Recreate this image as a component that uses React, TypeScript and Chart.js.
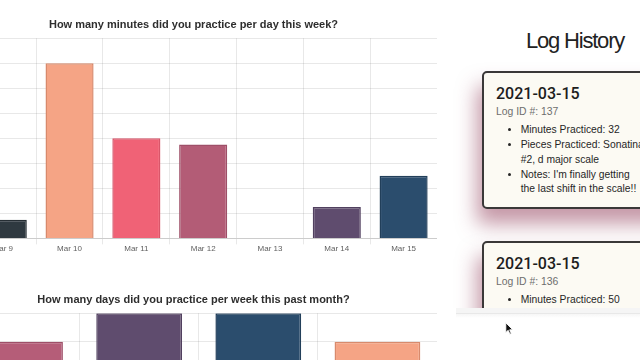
import React, { useEffect, useRef } from "react";
import { Chart, registerables } from "chart.js";

Chart.register(...registerables);

// Minutes practiced per day, this week
const dayLabels = ["Mar 9", "Mar 10", "Mar 11", "Mar 12", "Mar 13", "Mar 14", "Mar 15"];
const dayMinutes = [15, 140, 80, 75, 0, 25, 50];
const dayFills = ["#2f3940", "#f5a485", "#f06276", "#b35c76", "#c06c84", "#5f4c6e", "#2b4d6d"];
const dayBorders = ["#262e34", "#d88a6c", "#d9566a", "#9e4f68", "#a95d73", "#51405f", "#223f5a"];
const minutesMax = 160;
const minutesStep = 20;

// Days practiced per week, this past month
const weekLabels = ["Feb 22", "Mar 1", "Mar 8", "Mar 15"];
const weekDays = [6, 7, 7, 6];
const weekFills = ["#b55d78", "#5f4c6e", "#2b4d6d", "#f5a485"];
const weekBorders = ["#9e4f68", "#51405f", "#223f5a", "#d88a6c"];
const daysMax = 7;
const daysStep = 1;

const FONT = "'Liberation Sans', Arial, Helvetica, sans-serif";
const DATE_FONT = "Roboto, 'Liberation Sans', Arial, sans-serif";

type BarProps = {
  title: string;
  labels: string[];
  values: number[];
  fills: string[];
  borders: string[];
  max: number;
  step: number;
  top: number;
};

function PracticeBarChart({ title, labels, values, fills, borders, max, step, top }: BarProps) {
  const ref = useRef<HTMLCanvasElement | null>(null);

  useEffect(() => {
    if (!ref.current) return;
    const grid = "rgba(0,0,0,0.09)";
    const chart = new Chart(ref.current, {
      type: "bar",
      data: {
        labels,
        datasets: [
          {
            data: values,
            backgroundColor: fills,
            borderColor: borders,
            borderWidth: 1.5,
          },
        ],
      },
      options: {
        responsive: false,
        animation: false,
        layout: { padding: 0 },
        plugins: {
          legend: { display: false },
          tooltip: { enabled: false },
          title: {
            display: true,
            text: title,
            color: "#2e2e2e",
            font: { family: FONT, size: 11, weight: "bold" },
            padding: { top: 10, bottom: 7 },
          },
        },
        scales: {
          x: {
            grid: { color: grid, tickLength: 6 },
            border: { color: "rgba(0,0,0,0.12)" },
            ticks: { color: "#5f5f5f", font: { family: FONT, size: 8 }, padding: 0, maxRotation: 0 },
          },
          y: {
            min: 0,
            max,
            grid: { color: grid, tickLength: 6 },
            border: { color: grid },
            ticks: { stepSize: step, color: "#5f5f5f", font: { family: FONT, size: 8 }, padding: 0 },
          },
        },
      },
    });
    return () => chart.destroy();
  }, []);

  return (
    <canvas
      ref={ref}
      width={487}
      height={246}
      style={{ position: "absolute", left: -50, top, width: 487, height: 246 }}
    />
  );
}

function LogCard({ top, date, id, items, height }: { top: number; date: string; id: number; items: React.ReactNode[]; height: number }) {
  return (
    <div
      style={{
        position: "absolute",
        left: 26,
        top,
        width: 200,
        height,
        boxSizing: "border-box",
        border: "2px solid #3a3838",
        borderRadius: 5,
        background: "#fcfaf3",
        boxShadow: "-5px 15px 20px rgba(140, 50, 80, 0.5)",
        padding: "11.5px 0 0 12px",
        fontFamily: FONT,
      }}
    >
      <div style={{ fontFamily: DATE_FONT, fontSize: 16, lineHeight: "20px", fontWeight: 500, color: "#1d1d1d" }}>{date}</div>
      <div style={{ fontSize: 10.4, lineHeight: "15px", color: "#6e6e6e" }}>Log ID #: {id}</div>
      <ul style={{ margin: "4px 0 0 0", paddingLeft: 24.7, fontSize: 10.3, lineHeight: "14.85px", color: "#262626" }}>
        {items.map((it, i) => (
          <li key={i} style={{ whiteSpace: "nowrap" }}>{it}</li>
        ))}
      </ul>
    </div>
  );
}

export default function App() {
  return (
    <div style={{ position: "fixed", left: 0, top: 0, width: 640, height: 360, overflow: "hidden", background: "#fff" }}>
      <PracticeBarChart
        title="How many minutes did you practice per day this week?"
        labels={dayLabels}
        values={dayMinutes}
        fills={dayFills}
        borders={dayBorders}
        max={minutesMax}
        step={minutesStep}
        top={8}
      />
      <PracticeBarChart
        title="How many days did you practice per week this past month?"
        labels={weekLabels}
        values={weekDays}
        fills={weekFills}
        borders={weekBorders}
        max={daysMax}
        step={daysStep}
        top={283}
      />

      <div style={{ position: "absolute", left: 450, top: 0, width: 190, height: 307.5, overflow: "hidden" }}>
        <div
          style={{
            position: "absolute",
            left: 76,
            top: 30.4,
            fontFamily: FONT,
            fontSize: 22,
            lineHeight: "22px",
            letterSpacing: -1.2,
            color: "#222",
            whiteSpace: "nowrap",
          }}
        >
          Log History
        </div>
        <div style={{ position: "absolute", left: 6, top: 0, width: 184, height: 307.5 }}>
          <LogCard
            top={70.5}
            height={138.5}
            date="2021-03-15"
            id={137}
            items={[
              "Minutes Practiced: 32",
              <>Pieces Practiced: Sonatina<br />#2, d major scale</>,
              <>Notes: I'm finally getting<br />the last shift in the scale!!</>,
            ]}
          />
          <LogCard
            top={240.5}
            height={138.5}
            date="2021-03-15"
            id={136}
            items={["Minutes Practiced: 50"]}
          />
        </div>
      </div>
      <div style={{ position: "absolute", left: 456, top: 307.5, width: 184, height: 5.5, background: "#f5f5f5" }} />
      <div style={{ position: "absolute", left: 456, top: 313, width: 184, height: 1, background: "#e8e8e8" }} />
      <div style={{ position: "absolute", left: 456, top: 314, width: 184, height: 4, background: "linear-gradient(#f6f6f6, #fff)" }} />

      <svg style={{ position: "absolute", left: 505, top: 322 }} width="10" height="14" viewBox="0 0 10 14">
        <path d="M0.8 0.8 L0.8 10.5 L3.2 8.3 L4.9 12.2 L6.3 11.6 L4.7 7.8 L7.8 7.8 Z" fill="#111" stroke="#fff" strokeWidth="0.9" />
      </svg>
    </div>
  );
}
